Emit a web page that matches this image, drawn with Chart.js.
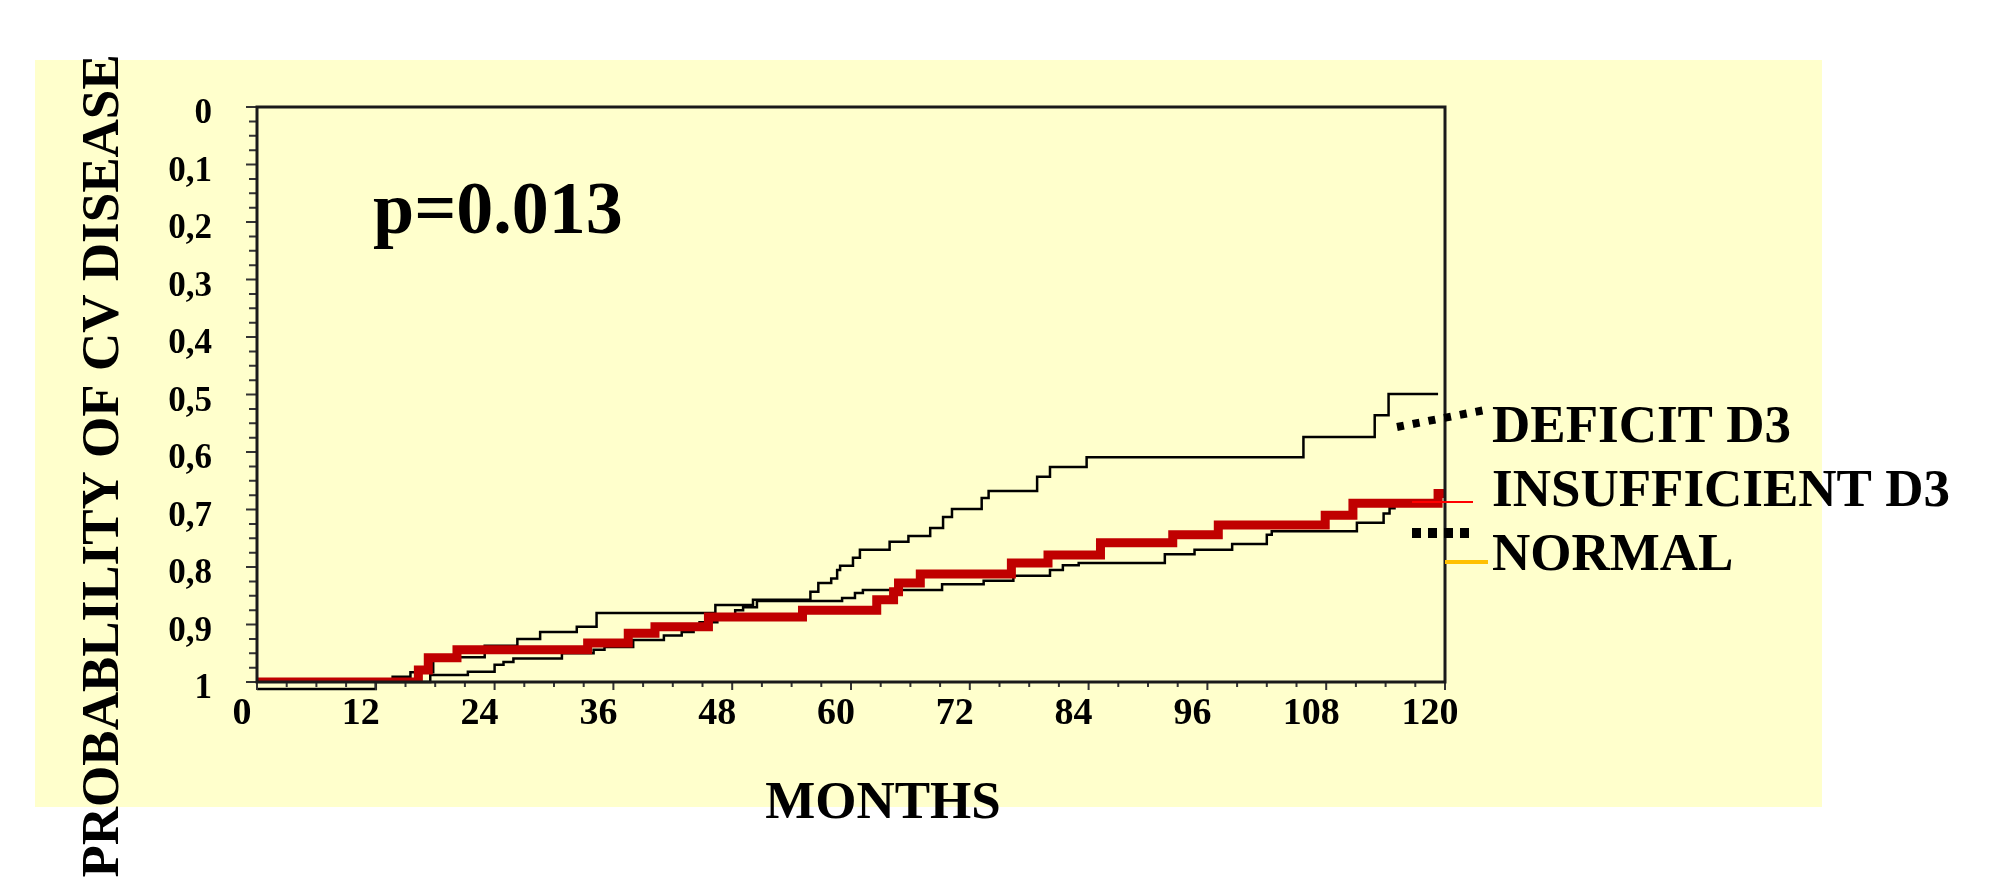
<!DOCTYPE html>
<html>
<head>
<meta charset="utf-8">
<script src="https://cdn.jsdelivr.net/npm/chart.js@4/dist/chart.umd.min.js"></script>
<style>
  html, body { margin: 0; padding: 0; background: #fff; overflow: hidden; }
  canvas { display: block; }
</style>
</head>
<body>
<canvas id="km" width="2009" height="877"></canvas>
<script>
// Kaplan-Meier style curves, months -> probability (axis is reversed: 1 at the bottom)
const deficitMonths = [0, 13.7, 15.5, 17.8, 23.0, 26.3, 28.6, 32.3, 34.3, 46.3, 50.1, 55.9, 56.7, 58.0, 58.6, 58.9, 60.2, 60.9, 63.9, 65.8, 68.0, 69.3, 70.2, 73.2, 73.9, 78.8, 80.1, 83.8, 105.7, 112.9, 114.3, 119.3];
const deficitSurv = [1, 0.991, 0.983, 0.957, 0.937, 0.925, 0.913, 0.904, 0.880, 0.866, 0.857, 0.843, 0.828, 0.820, 0.805, 0.798, 0.784, 0.770, 0.756, 0.746, 0.732, 0.713, 0.699, 0.680, 0.668, 0.643, 0.626, 0.609, 0.574, 0.536, 0.499, 0.499];

const insuffMonths = [0, 16.3, 17.3, 20.2, 33.4, 37.5, 40.2, 45.6, 55.1, 62.6, 64.3, 64.8, 67.0, 76.2, 79.9, 85.2, 92.5, 97.1, 107.9, 110.7, 119.3, 120];
const insuffSurv = [1, 0.979, 0.958, 0.944, 0.932, 0.915, 0.904, 0.887, 0.875, 0.857, 0.843, 0.828, 0.812, 0.793, 0.779, 0.758, 0.744, 0.727, 0.710, 0.689, 0.672, 0.672];

const normalMonths = [0, 12, 17.5, 21.3, 24.0, 24.9, 25.9, 30.8, 34.0, 35.1, 38.0, 41.1, 42.9, 44.1, 44.7, 46.5, 48.3, 49.1, 50.5, 59.1, 60.4, 61.2, 69.2, 73.4, 76.4, 80.1, 81.4, 83.0, 91.7, 94.7, 98.5, 102.0, 102.5, 111.1, 113.8, 114.4, 114.9, 119.7];
const normalSurv = [1.012, 1.0, 0.988, 0.982, 0.970, 0.965, 0.959, 0.950, 0.944, 0.939, 0.927, 0.919, 0.913, 0.904, 0.896, 0.885, 0.875, 0.870, 0.859, 0.854, 0.845, 0.840, 0.830, 0.824, 0.815, 0.805, 0.797, 0.793, 0.778, 0.770, 0.760, 0.744, 0.738, 0.723, 0.707, 0.698, 0.689, 0.689];

const xTickLabels = ["0", "12", "24", "36", "48", "60", "72", "84", "96", "108", "120"];
const yTickLabels = ["0", "0,1", "0,2", "0,3", "0,4", "0,5", "0,6", "0,7", "0,8", "0,9", "1"];
const legendLabels = ["DEFICIT D3", "INSUFFICIENT D3", "NORMAL"];
const xTitle = "MONTHS";
const yTitle = "PROBABLILITY OF CV DISEASE";
const pValueText = "p=0.013";

const serif = '"Liberation Serif", "Times New Roman", serif';
const xStep = 12;
const yStep = 0.1;
const xMinorStep = 3;
const yMinorStep = 0.025;

const toPoints = (months, surv) => months.map((m, i) => ({ x: m, y: surv[i] }));

const slideBackground = {
  id: "slideBackground",
  beforeDraw(chart) {
    const ctx = chart.ctx;
    ctx.save();
    ctx.fillStyle = "#FFFFCC";
    ctx.fillRect(35, 60, 1787, 747);
    ctx.restore();
  },
};

const frameAndTicks = {
  id: "frameAndTicks",
  afterDatasetsDraw(chart) {
    const ctx = chart.ctx;
    const { left, right, top, bottom } = chart.chartArea;
    const { x, y } = chart.scales;
    ctx.save();
    ctx.strokeStyle = "#333";
    ctx.lineWidth = 2;
    ctx.beginPath();
    for (let m = x.min; m <= x.max + 0.001; m += xMinorStep) {
      const px = x.getPixelForValue(m);
      const len = Math.round(m) % xStep === 0 ? 8 : 5;
      ctx.moveTo(px, bottom);
      ctx.lineTo(px, bottom + len);
    }
    const n = Math.round((y.max - y.min) / yMinorStep);
    for (let k = 0; k <= n; k++) {
      const py = y.getPixelForValue(y.min + k * yMinorStep);
      const len = k % 4 === 0 ? 11 : 8;
      ctx.moveTo(left - len, py);
      ctx.lineTo(left, py);
    }
    ctx.stroke();
    ctx.strokeStyle = "#1a1a1a";
    ctx.lineWidth = 3;
    ctx.strokeRect(left, top, right - left, bottom - top);
    ctx.restore();
  },
};

const annotations = {
  id: "annotations",
  afterDraw(chart) {
    const ctx = chart.ctx;
    const { right } = chart.chartArea;
    ctx.save();
    ctx.fillStyle = "#000";
    ctx.textBaseline = "alphabetic";

    ctx.font = "bold 74px " + serif;
    ctx.textAlign = "left";
    ctx.fillText(pValueText, 373, 233);

    ctx.font = "bold 53px " + serif;
    ctx.textAlign = "center";
    ctx.fillText(xTitle, 883, 818);

    ctx.save();
    ctx.translate(118, 466);
    ctx.rotate(-Math.PI / 2);
    ctx.fillText(yTitle, 0, 0);
    ctx.restore();

    ctx.textAlign = "left";
    legendLabels.forEach((label, i) => {
      ctx.fillText(label, right + 47, 442 + i * 64);
    });

    // legend swatches, as messy as the original slide
    ctx.lineCap = "butt";
    ctx.strokeStyle = "#000";
    ctx.setLineDash([7, 9]);
    ctx.lineWidth = 8;
    ctx.beginPath();
    ctx.moveTo(right - 48, 427);
    ctx.lineTo(right + 40, 410);
    ctx.stroke();

    ctx.setLineDash([9, 7]);
    ctx.lineWidth = 10;
    ctx.beginPath();
    ctx.moveTo(right - 33, 533);
    ctx.lineTo(right + 25, 533);
    ctx.stroke();

    ctx.setLineDash([]);
    ctx.strokeStyle = "#FF0000";
    ctx.lineWidth = 2;
    ctx.beginPath();
    ctx.moveTo(right - 33, 502);
    ctx.lineTo(right + 28, 502);
    ctx.stroke();

    ctx.strokeStyle = "#FFC000";
    ctx.lineWidth = 4;
    ctx.beginPath();
    ctx.moveTo(right, 562);
    ctx.lineTo(right + 43, 562);
    ctx.stroke();
    ctx.restore();
  },
};

const chart = new Chart(document.getElementById("km"), {
  type: "line",
  data: {
    datasets: [
      {
        label: legendLabels[1],
        data: toPoints(insuffMonths, insuffSurv),
        borderColor: "#C00000",
        borderWidth: 9,
        borderJoinStyle: "miter",
        stepped: true,
        order: 0,
      },
      {
        label: legendLabels[0],
        data: toPoints(deficitMonths, deficitSurv),
        borderColor: "#000",
        borderWidth: 2.5,
        stepped: true,
        order: 1,
      },
      {
        label: legendLabels[2],
        data: toPoints(normalMonths, normalSurv),
        borderColor: "#000",
        borderWidth: 2.5,
        stepped: true,
        clip: false,
        order: 1,
      },
    ],
  },
  options: {
    responsive: false,
    animation: false,
    events: [],
    layout: { padding: { top: 107, right: 564, bottom: 0, left: 0 } },
    elements: { point: { radius: 0 } },
    plugins: {
      legend: { display: false },
      tooltip: { enabled: false },
    },
    scales: {
      x: {
        type: "linear",
        min: 0,
        max: 120,
        afterFit(scale) {
          scale.height = 195;
        },
        grid: { display: false, drawTicks: false },
        border: { display: false },
        ticks: {
          stepSize: xStep,
          autoSkip: false,
          maxRotation: 0,
          padding: 9,
          labelOffset: -15,
          color: "#000",
          font: { family: serif, size: 38, weight: "bold" },
          callback: (value) => xTickLabels[Math.round(value / xStep)],
        },
      },
      y: {
        min: 0,
        max: 1,
        reverse: true,
        afterFit(scale) {
          scale.width = 257;
        },
        grid: { display: false, drawTicks: false },
        border: { display: false },
        ticks: {
          stepSize: yStep,
          autoSkip: false,
          padding: 45,
          labelOffset: 7,
          color: "#000",
          font: { family: serif, size: 35, weight: "bold" },
          callback: (value) => yTickLabels[Math.round(value / yStep)],
        },
      },
    },
  },
  plugins: [slideBackground, frameAndTicks, annotations],
});
</script>
</body>
</html>
